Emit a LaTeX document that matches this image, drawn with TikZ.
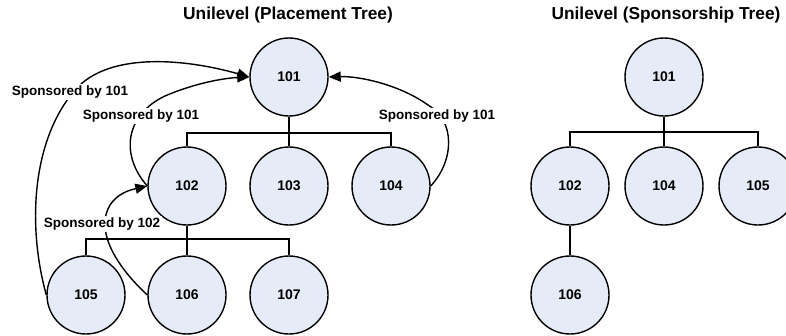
\documentclass[tikz,border=0pt]{standalone}
\usepackage{fontspec}
\setmainfont{Liberation Sans}
\usetikzlibrary{arrows.meta}
\definecolor{nodefill}{RGB}{230,236,247}
\begin{document}
\begin{tikzpicture}[x=1pt,y=-1pt,
  member/.style={circle,draw=black,line width=1.4pt,fill=nodefill,minimum size=78pt,inner sep=0pt,font=\fontsize{14}{16}\selectfont\bfseries},
  title/.style={font=\fontsize{17.3}{20}\selectfont\bfseries,inner sep=0pt},
  spon/.style={fill=white,font=\fontsize{13.5}{16}\selectfont\bfseries,inner sep=1.5pt},
  tree/.style={line width=1.4pt},
  sarrow/.style={line width=1.4pt,-{Triangle[length=12pt,width=10pt]}}]
\useasboundingbox (0,0) rectangle (786,335);
% titles
\node[title] (t1) at (288,15) {Unilevel (Placement Tree)};
\node[title] (t2) at (666,15) {Unilevel (Sponsorship Tree)};
% placement tree
\node[member] (p101) at (289,77) {101};
\node[member] (p102) at (187,186) {102};
\node[member] (p103) at (289,186) {103};
\node[member] (p104) at (391,186) {104};
\node[member] (p105) at (86,295) {105};
\node[member] (p106) at (187,295) {106};
\node[member] (p107) at (289,295) {107};
\coordinate (b1) at (289,133);
\coordinate (b2) at (187,239);
\draw[tree] (p101.south) -- (b1);
\draw[tree] (p102.north) |- (b1);
\draw[tree] (p103.north) -- (b1);
\draw[tree] (p104.north) |- (b1);
\draw[tree] (p102.south) -- (b2);
\draw[tree] (p105.north) |- (b2);
\draw[tree] (p106.north) -- (b2);
\draw[tree] (p107.north) |- (b2);
% sponsorship arrows
\draw[sarrow] (p105.west) .. controls (27,225) and (32,140) .. (75,90)
   .. controls (110,50) and (190,60) .. (p101.west);
\draw[sarrow] (p102.west) .. controls (120,155) and (125,115) .. (165,96)
   .. controls (195,83) and (225,78) .. (p101.west);
\draw[sarrow] (p104.east) .. controls (455,160) and (455,120) .. (428,105)
   .. controls (400,85) and (360,76) .. (p101.east);
\draw[sarrow] (p106.west) .. controls (115,265) and (95,230) .. (110,205)
   .. controls (118,193) and (130,190) .. (p102.west);
\node[spon] (l1) at (70,92) {Sponsored by 101};
\node[spon] (l2) at (141,116) {Sponsored by 101};
\node[spon] (l3) at (437,116) {Sponsored by 101};
\node[spon] (l4) at (102,224) {Sponsored by 102};
% sponsorship tree
\node[member] (s101) at (664,77) {101};
\node[member] (s102) at (570,186) {102};
\node[member] (s104) at (664,186) {104};
\node[member] (s105) at (758,186) {105};
\node[member] (s106) at (570,295) {106};
\coordinate (b3) at (664,132);
\draw[tree] (s101.south) -- (b3);
\draw[tree] (s102.north) |- (b3);
\draw[tree] (s104.north) -- (b3);
\draw[tree] (s105.north) |- (b3);
\draw[tree] (s102.south) -- (s106.north);
\end{tikzpicture}
\end{document}
